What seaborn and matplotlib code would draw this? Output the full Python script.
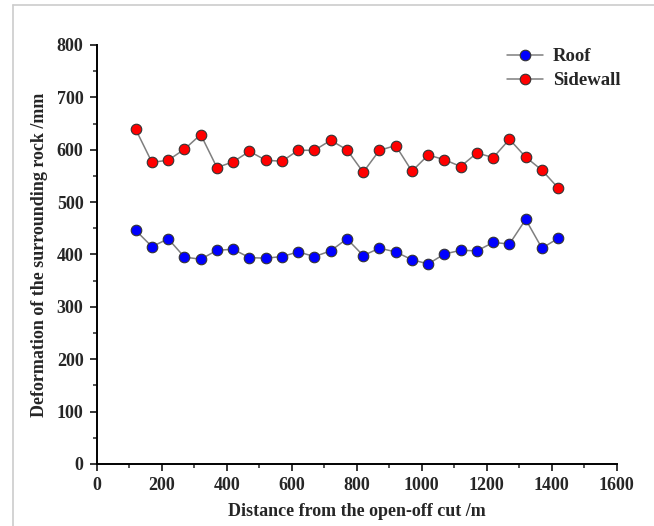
import matplotlib
matplotlib.use("Agg")
import matplotlib.pyplot as plt
import seaborn as sns
from matplotlib.lines import Line2D
from matplotlib.ticker import MultipleLocator

distance = [120, 170, 220, 270, 320, 370, 420, 470, 520, 570, 620, 670, 720, 770,
            820, 870, 920, 970, 1020, 1070, 1120, 1170, 1220, 1270, 1320, 1370, 1420]
roof = [446, 415, 430, 395, 391, 408, 410, 394, 393, 396, 405, 396, 407, 430,
        398, 412, 405, 390, 382, 401, 408, 407, 423, 420, 467, 412, 431]
sidewall = [639, 576, 580, 601, 629, 566, 577, 597, 580, 578, 599, 599, 618, 600,
            557, 599, 608, 559, 590, 581, 568, 594, 585, 620, 586, 561, 527]

sns.set_style("ticks")
plt.rcParams['font.family'] = ['Liberation Serif', 'DejaVu Serif']
plt.rcParams['font.weight'] = 'bold'

fig = plt.figure(figsize=(6.54, 5.26), dpi=100)
ax = fig.add_axes([96.7/654, 62/526, 520/654, 419/526])

common = dict(marker='o', color='#7f7f7f', linewidth=1.1, markersize=7.6,
              markeredgecolor='#333333', markeredgewidth=0.8, ax=ax)
sns.lineplot(x=distance, y=roof, markerfacecolor='#0000ff', label='Roof', **common)
sns.lineplot(x=distance, y=sidewall, markerfacecolor='#ff0000', label='Sidewall', **common)

ax.set_xlim(0, 1600)
ax.set_ylim(0, 800)
ax.xaxis.set_major_locator(MultipleLocator(200))
ax.xaxis.set_minor_locator(MultipleLocator(100))
ax.yaxis.set_major_locator(MultipleLocator(100))
ax.yaxis.set_minor_locator(MultipleLocator(50))
ax.tick_params(which='major', direction='out', length=5, width=1.3, labelsize=13, pad=4.5)
ax.tick_params(which='minor', direction='out', length=3, width=1.1)
for lab in ax.get_xticklabels() + ax.get_yticklabels():
    lab.set_fontweight('bold')
for s in ['left', 'bottom']:
    ax.spines[s].set_linewidth(1.4)
    ax.spines[s].set_color('black')
for s in ['top', 'right']:
    ax.spines[s].set_visible(False)

ax.set_xlabel('Distance from the open-off cut /m', fontsize=13, fontweight='bold', labelpad=6)
ax.set_ylabel('Deformation of the surrounding rock /mm', fontsize=13, fontweight='bold', labelpad=6)

leg = ax.legend(loc='upper left', frameon=False, fontsize=13.5, handlelength=1.95,
                bbox_to_anchor=(506.7/654, 1 - 48/526), bbox_transform=fig.transFigure,
                borderaxespad=0, borderpad=0, handletextpad=0.5, labelspacing=0.38)
for t in leg.get_texts():
    t.set_fontweight('bold')

# light gray page border
fig.add_artist(Line2D([13/654, 13/654], [0, 1 - 4.5/526], transform=fig.transFigure,
                      color='#cccccc', linewidth=1.2))
fig.add_artist(Line2D([13/654, 1], [1 - 4.5/526, 1 - 4.5/526], transform=fig.transFigure,
                      color='#cccccc', linewidth=1.2))

fig.savefig('out.png', dpi=100)
